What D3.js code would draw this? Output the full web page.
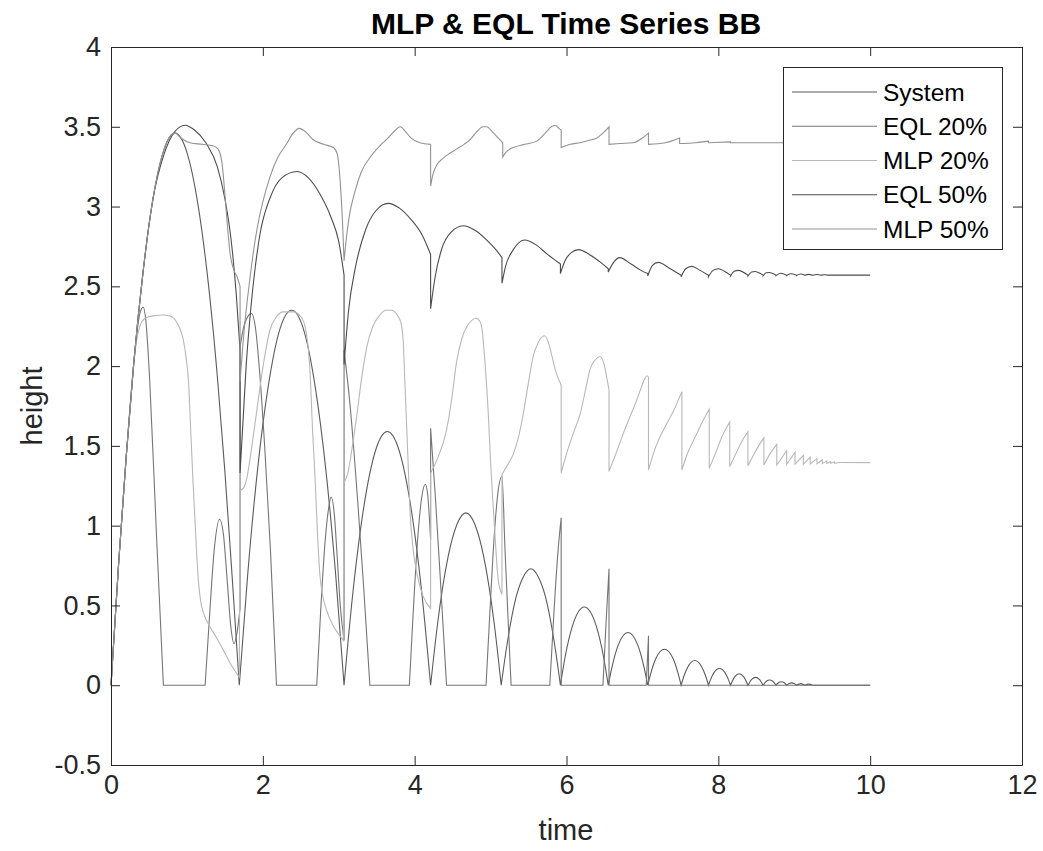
<!DOCTYPE html>
<html>
<head>
<meta charset="utf-8">
<script src="https://cdn.jsdelivr.net/npm/d3@7"></script>
<style>
  body { margin: 0; background: #fff; }
  text { font-family: "Liberation Sans", Arial, sans-serif; fill: #262626; }
</style>
</head>
<body>
<svg id="chart" width="1043" height="851"></svg>
<script>
// tick values
var xTicks = [0, 2, 4, 6, 8, 10, 12];
var yTicks = [-0.5, 0, 0.5, 1, 1.5, 2, 2.5, 3, 3.5, 4];

var seriesNames = ['System', 'EQL 20%', 'MLP 20%', 'EQL 50%', 'MLP 50%'];
var seriesColors = ['#5b5b5b', '#757575', '#b8b8b8', '#4c4c4c', '#939393'];

// each series is a list of pieces [time, height]; pieces are joined by straight steps
var system = [
  [[0,0],[0.1,0.76],[0.2,1.43],[0.3,2.02],[0.42,2.58],[0.55,3.04],[0.7,3.36],[0.843,3.46],[1.0,3.34],[1.15,3.0],[1.3,2.44],[1.4,1.94],[1.5,1.34],[1.6,0.65],[1.69,0]],
  [[1.69,0],[1.8,0.69],[1.93,1.35],[2.07,1.87],[2.23,2.24],[2.38,2.35],[2.53,2.24],[2.69,1.87],[2.83,1.35],[2.96,0.69],[3.07,0]],
  [[3.07,0],[3.184,0.57],[3.355,1.19],[3.4975,1.49],[3.64,1.59],[3.7825,1.49],[3.925,1.19],[4.096,0.57],[4.21,0]],
  [[4.21,0],[4.303,0.39],[4.4425,0.81],[4.559,1.01],[4.675,1.08],[4.791,1.01],[4.9075,0.81],[5.047,0.39],[5.14,0]],
  [[5.14,0],[5.218,0.26],[5.335,0.55],[5.4325,0.68],[5.53,0.73],[5.6275,0.68],[5.725,0.55],[5.842,0.26],[5.92,0]],
  [[5.92,0],[5.983,0.18],[6.0775,0.37],[6.235,0.49],[6.3925,0.37],[6.487,0.18],[6.55,0]],
  [[6.55,0],[6.602,0.12],[6.68,0.25],[6.81,0.33],[6.94,0.25],[7.018,0.12],[7.07,0]],
  [[7.07,0],[7.114,0.081],[7.18,0.17],[7.29,0.225],[7.40,0.17],[7.466,0.081],[7.51,0]],
  [[7.51,0],[7.546,0.056],[7.60,0.116],[7.69,0.155],[7.78,0.116],[7.834,0.056],[7.87,0]],
  [[7.87,0],[7.9,0.038],[7.9425,0.079],[8.015,0.105],[8.0875,0.079],[8.13,0.038],[8.16,0]],
  [[8.16,0],[8.2175,0.054],[8.275,0.072],[8.3325,0.054],[8.39,0]],
  [[8.39,0],[8.44,0.037],[8.49,0.049],[8.54,0.037],[8.59,0]],
  [[8.59,0],[8.6325,0.025],[8.675,0.033],[8.7175,0.025],[8.76,0]],
  [[8.76,0],[8.795,0.017],[8.83,0.022],[8.865,0.017],[8.90,0]],
  [[8.90,0],[8.9325,0.011],[8.965,0.015],[8.9975,0.011],[9.03,0]],
  [[9.03,0],[9.085,0.01],[9.14,0]],
  [[9.14,0],[9.19,0.007],[9.24,0]],
  [[9.24,0],[10,0]]
];

var eql20 = [
  [[0,0],[0.1,0.76],[0.2,1.43],[0.3,2.02],[0.38,2.33],[0.425,2.37],[0.46,2.28],[0.51,1.91],[0.6,0.93],[0.69,0]],
  [[0.69,0],[1.24,0]],
  [[1.24,0],[1.3,0.45],[1.36,0.85],[1.43,1.04],[1.48,0.95],[1.53,0.66],[1.58,0.36],[1.62,0.26],[1.66,0.33],[1.70,0.48]],
  [[1.70,2.12],[1.75,2.25],[1.80,2.31],[1.85,2.33],[1.9,2.25],[1.96,1.95],[2.03,1.45],[2.1,0.85],[2.18,0]],
  [[2.18,0],[2.71,0]],
  [[2.71,0],[2.76,0.45],[2.82,0.9],[2.87,1.12],[2.90,1.18],[2.94,1.08],[2.98,0.8],[3.02,0.5],[3.07,0.28]],
  [[3.07,2.1],[3.15,1.75],[3.25,1.15],[3.33,0.6],[3.41,0]],
  [[3.41,0],[3.93,0]],
  [[3.93,0],[3.98,0.45],[4.04,0.92],[4.10,1.2],[4.14,1.26],[4.17,1.2],[4.21,0.91]],
  [[4.21,1.61],[4.27,1.2],[4.34,0.65],[4.42,0]],
  [[4.42,0],[4.94,0]],
  [[4.94,0],[4.99,0.45],[5.05,0.95],[5.1,1.22],[5.15,1.31],[5.19,0.85],[5.23,0.42],[5.27,0]],
  [[5.27,0],[5.78,0]],
  [[5.78,0],[5.84,0.5],[5.89,0.85],[5.93,1.05]],
  [[5.93,0],[6.48,0]],
  [[6.48,0],[6.52,0.38],[6.56,0.73]],
  [[6.56,0],[7.05,0]],
  [[7.05,0],[7.07,0.2],[7.08,0.31]],
  [[7.08,0],[10,0]]
];

var mlp20 = [
  [[0,0],[0.1,0.76],[0.2,1.43],[0.27,1.85],[0.32,2.1],[0.38,2.25],[0.45,2.3],[0.55,2.315],[0.7,2.32],[0.8,2.31],[0.86,2.28],[0.92,2.22],[0.95,2.17],[0.99,2.05],[1.02,1.91],[1.05,1.6],[1.08,1.28],[1.115,0.95],[1.15,0.66],[1.18,0.53],[1.22,0.45],[1.30,0.37],[1.40,0.29],[1.48,0.22],[1.58,0.13],[1.69,0.05]],
  [[1.70,1.22],[1.75,1.24],[1.79,1.3],[1.85,1.48],[1.92,1.72],[2.01,2.02],[2.09,2.22],[2.18,2.31],[2.27,2.34],[2.40,2.34],[2.5,2.31],[2.56,2.24],[2.6,2.1],[2.62,1.98],[2.655,1.6],[2.69,1.28],[2.72,0.95],[2.75,0.7],[2.79,0.56],[2.84,0.47],[2.93,0.37],[3.0,0.32],[3.06,0.28]],
  [[3.07,1.27],[3.12,1.33],[3.18,1.5],[3.24,1.70],[3.30,1.92],[3.37,2.12],[3.45,2.25],[3.54,2.32],[3.62,2.35],[3.70,2.35],[3.77,2.32],[3.82,2.27],[3.85,2.15],[3.87,1.91],[3.905,1.5],[3.94,1.08],[3.98,0.85],[4.03,0.70],[4.11,0.56],[4.21,0.48]],
  [[4.21,1.33],[4.3,1.42],[4.42,1.60],[4.49,1.8],[4.55,2.02],[4.62,2.17],[4.69,2.25],[4.76,2.29],[4.81,2.30],[4.86,2.28],[4.89,2.22],[4.93,2.0],[4.97,1.70],[5.0,1.4],[5.04,1.08],[5.07,0.85],[5.10,0.66],[5.15,0.57]],
  [[5.15,1.32],[5.21,1.37],[5.30,1.45],[5.37,1.56],[5.43,1.70],[5.5,1.9],[5.56,2.06],[5.63,2.15],[5.71,2.19],[5.76,2.15],[5.80,2.08],[5.85,1.98],[5.93,1.88]],
  [[5.93,1.33],[6.0,1.45],[6.09,1.58],[6.18,1.70],[6.25,1.85],[6.31,1.98],[6.38,2.04],[6.44,2.06],[6.49,2.02],[6.53,1.93],[6.56,1.85]],
  [[6.56,1.34],[6.65,1.45],[6.75,1.58],[6.85,1.70],[6.92,1.78],[6.98,1.86],[7.03,1.92],[7.06,1.94],[7.08,1.93]],
  [[7.08,1.35],[7.18,1.5],[7.3,1.62],[7.42,1.73],[7.52,1.84]],
  [[7.52,1.35],[7.6,1.46],[7.7,1.56],[7.8,1.66],[7.88,1.73]],
  [[7.88,1.36],[7.96,1.45],[8.05,1.56],[8.15,1.65]],
  [[8.15,1.37],[8.22,1.44],[8.3,1.52],[8.39,1.59]],
  [[8.39,1.375],[8.46,1.44],[8.53,1.5],[8.6,1.55]],
  [[8.6,1.38],[8.68,1.45],[8.77,1.51]],
  [[8.77,1.38],[8.90,1.47]],
  [[8.90,1.383],[9.01,1.46]],
  [[9.01,1.385],[9.12,1.44]],
  [[9.12,1.386],[9.21,1.43]],
  [[9.21,1.387],[9.3,1.42]],
  [[9.3,1.388],[9.37,1.412]],
  [[9.37,1.389],[9.43,1.406]],
  [[9.43,1.39],[9.48,1.402]],
  [[9.48,1.391],[9.53,1.399]],
  [[9.53,1.392],[9.6,1.396],[10,1.395]]
];

var eql50 = [
  [[0,0],[0.1,0.76],[0.2,1.43],[0.3,2.02],[0.42,2.58],[0.55,3.04],[0.7,3.33],[0.84,3.47],[0.975,3.51],[1.1,3.48],[1.25,3.4],[1.4,3.25],[1.5,3.05],[1.58,2.8],[1.65,2.45],[1.70,2.1]],
  [[1.70,1.33],[1.78,2.0],[1.86,2.45],[1.96,2.82],[2.1,3.06],[2.25,3.18],[2.45,3.22],[2.6,3.18],[2.75,3.08],[2.9,2.93],[3.0,2.78],[3.07,2.57]],
  [[3.07,2.01],[3.13,2.35],[3.22,2.62],[3.35,2.85],[3.5,2.98],[3.65,3.02],[3.8,2.99],[3.95,2.92],[4.1,2.82],[4.21,2.70]],
  [[4.21,2.36],[4.27,2.56],[4.36,2.74],[4.48,2.84],[4.64,2.88],[4.8,2.85],[4.95,2.79],[5.07,2.73],[5.15,2.68]],
  [[5.15,2.52],[5.2,2.63],[5.3,2.73],[5.45,2.79],[5.6,2.76],[5.75,2.7],[5.92,2.64]],
  [[5.92,2.58],[5.98,2.66],[6.06,2.71],[6.16,2.73],[6.3,2.7],[6.45,2.65],[6.55,2.61]],
  [[6.55,2.59],[6.62,2.65],[6.70,2.68],[6.85,2.64],[6.98,2.6],[7.07,2.58]],
  [[7.07,2.565],[7.13,2.63],[7.21,2.65],[7.35,2.615],[7.51,2.57]],
  [[7.51,2.56],[7.57,2.61],[7.65,2.625],[7.76,2.6],[7.87,2.57]],
  [[7.87,2.56],[7.93,2.6],[8.0,2.61],[8.08,2.595],[8.16,2.57]],
  [[8.16,2.565],[8.21,2.595],[8.26,2.6],[8.39,2.57]],
  [[8.39,2.565],[8.44,2.59],[8.48,2.593],[8.59,2.57]],
  [[8.59,2.566],[8.63,2.585],[8.67,2.587],[8.76,2.57]],
  [[8.76,2.567],[8.82,2.582],[8.90,2.57]],
  [[8.90,2.568],[8.95,2.579],[9.03,2.57]],
  [[9.03,2.568],[9.08,2.577],[9.14,2.57]],
  [[9.14,2.569],[9.19,2.575],[9.24,2.57]],
  [[9.24,2.569],[9.3,2.574],[9.35,2.57]],
  [[9.35,2.57],[9.4,2.573],[9.45,2.57],[10,2.57]]
];

var mlp50 = [
  [[0,0],[0.1,0.76],[0.2,1.43],[0.3,2.02],[0.42,2.58],[0.55,3.04],[0.7,3.36],[0.843,3.46],[0.92,3.43],[1.04,3.40],[1.2,3.39],[1.35,3.38],[1.41,3.36],[1.46,3.28],[1.5,3.08],[1.53,2.9],[1.57,2.7],[1.62,2.6],[1.66,2.56],[1.70,2.50]],
  [[1.70,1.9],[1.74,2.15],[1.83,2.55],[1.92,2.85],[2.0,3.03],[2.09,3.18],[2.2,3.31],[2.31,3.39],[2.4,3.46],[2.48,3.49],[2.56,3.47],[2.66,3.42],[2.8,3.39],[2.93,3.37],[2.98,3.33],[3.02,3.15],[3.05,2.9],[3.07,2.66]],
  [[3.07,2.66],[3.1,2.8],[3.15,2.97],[3.2,3.07],[3.3,3.22],[3.4,3.3],[3.54,3.38],[3.65,3.43],[3.75,3.48],[3.81,3.50],[3.88,3.47],[3.95,3.43],[4.07,3.40],[4.21,3.39]],
  [[4.21,3.13],[4.24,3.2],[4.29,3.26],[4.37,3.30],[4.45,3.33],[4.55,3.36],[4.65,3.39],[4.73,3.42],[4.82,3.47],[4.9,3.50],[4.95,3.50],[5.02,3.47],[5.1,3.43],[5.16,3.40]],
  [[5.16,3.31],[5.2,3.34],[5.3,3.37],[5.45,3.39],[5.61,3.41],[5.72,3.46],[5.8,3.50],[5.85,3.51],[5.9,3.49],[5.93,3.48]],
  [[5.93,3.37],[6.05,3.39],[6.18,3.40],[6.3,3.415],[6.40,3.43],[6.48,3.46],[6.56,3.50]],
  [[6.56,3.39],[6.7,3.395],[6.88,3.40],[7.0,3.43],[7.08,3.46]],
  [[7.08,3.39],[7.3,3.40],[7.49,3.43]],
  [[7.49,3.395],[7.7,3.40],[7.87,3.41]],
  [[7.87,3.40],[8.16,3.405]],
  [[8.16,3.40],[10,3.40]]
];

var allSeries = [system, eql20, mlp20, eql50, mlp50];

var svg = d3.select('#chart');

var x = d3.scaleLinear().domain([0, 12]).range([111, 1022]);
var y = d3.scaleLinear().domain([-0.5, 4]).range([765, 47]);

// lines
var line = d3.line()
  .x(d => x(d[0]))
  .y(d => y(d[1]))
  .curve(d3.curveMonotoneX);

function pathFor(pieces) {
  return pieces.map((p, i) => {
    var s = line(p);
    return i ? 'L' + s.slice(1) : s;
  }).join('');
}

svg.append('g')
  .selectAll('path')
  .data(allSeries)
  .enter()
  .append('path')
  .attr('d', d => pathFor(d))
  .attr('fill', 'none')
  .attr('stroke', (d, i) => seriesColors[i])
  .attr('stroke-width', 1.1);

// axes, ticks point inward on every side
function styleAxis(g) {
  g.selectAll('path').attr('stroke', '#262626');
  g.selectAll('line').attr('stroke', '#262626');
  g.selectAll('text').attr('fill', '#262626').style('font-size', '27px');
}

svg.append('g')
  .attr('transform', 'translate(0,765)')
  .call(d3.axisBottom(x).tickValues(xTicks).tickSize(-9).tickSizeOuter(0).tickPadding(10).tickFormat(d => String(d)))
  .call(styleAxis);

svg.append('g')
  .attr('transform', 'translate(0,47)')
  .call(d3.axisTop(x).tickValues(xTicks).tickSize(-9).tickSizeOuter(0).tickFormat(''))
  .call(styleAxis);

svg.append('g')
  .attr('transform', 'translate(111,0)')
  .call(d3.axisLeft(y).tickValues(yTicks).tickSize(-9).tickSizeOuter(0).tickPadding(10).tickFormat(d => String(d)))
  .call(styleAxis);

svg.append('g')
  .attr('transform', 'translate(1022,0)')
  .call(d3.axisRight(y).tickValues(yTicks).tickSize(-9).tickSizeOuter(0).tickFormat(''))
  .call(styleAxis);

svg.selectAll('.domain').attr('stroke-width', 1);

// labels
svg.append('text')
  .attr('x', 566).attr('y', 34)
  .attr('text-anchor', 'middle')
  .style('font-size', '30px').style('font-weight', 'bold')
  .style('fill', '#000')
  .text('MLP & EQL Time Series BB');

svg.append('text')
  .attr('x', 566).attr('y', 840)
  .attr('text-anchor', 'middle')
  .style('font-size', '29px')
  .text('time');

svg.append('text')
  .attr('transform', 'translate(42,406) rotate(-90)')
  .attr('text-anchor', 'middle')
  .style('font-size', '29px')
  .text('height');

// legend
var legend = svg.append('g');
legend.append('rect')
  .attr('x', 783.5).attr('y', 67.5)
  .attr('width', 219).attr('height', 182)
  .attr('fill', '#fff')
  .attr('stroke', '#262626');

var rowY = d3.scaleLinear().domain([0, 4]).range([92, 229]);

var rows = legend.selectAll('g.row')
  .data(seriesNames)
  .enter()
  .append('g')
  .attr('class', 'row');

rows.append('line')
  .attr('x1', 792).attr('x2', 877)
  .attr('y1', (d, i) => rowY(i)).attr('y2', (d, i) => rowY(i))
  .attr('stroke', (d, i) => seriesColors[i])
  .attr('stroke-width', 1.1);

rows.append('text')
  .attr('x', 883)
  .attr('y', (d, i) => rowY(i))
  .attr('dy', '0.35em')
  .style('font-size', '24.5px')
  .style('fill', '#000')
  .text(d => d);
</script>
</body>
</html>
